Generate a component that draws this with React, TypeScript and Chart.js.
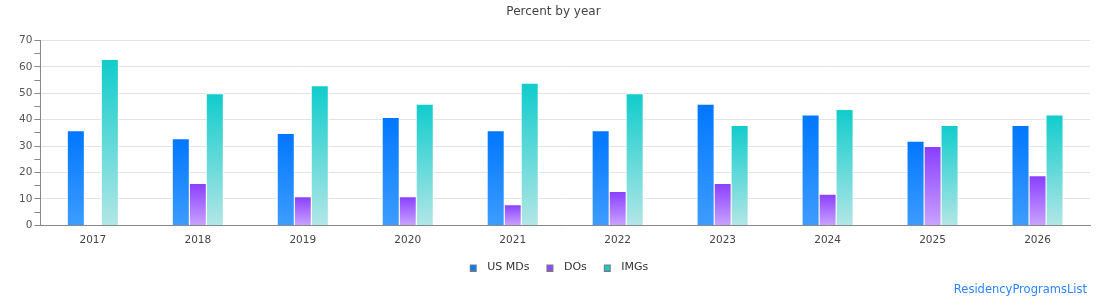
import React, { useEffect, useRef } from "react";
import { Chart, registerables } from "chart.js";

Chart.register(...registerables);

const years = ["2017", "2018", "2019", "2020", "2021", "2022", "2023", "2024", "2025", "2026"];
const usMDs = [36, 33, 35, 41, 36, 36, 46, 42, 32, 38];
const dOs = [0, 16, 11, 11, 8, 13, 16, 12, 30, 19];
const imgs = [63, 50, 53, 46, 54, 50, 38, 44, 38, 42];
const yTickValues = [0, 10, 20, 30, 40, 50, 60, 70];
const creditText = "ResidencyProgramsList";

const FONT = "'DejaVu Sans', Verdana, sans-serif";

// top colour, bottom colour, legend swatch colour
const palette = {
  us: ["#0077ff", "#3d9cff", "#0a7cff"],
  dos: ["#893dff", "#c9a2ff", "#8b4cff"],
  imgs: ["#10cccc", "#b2e6e6", "#19c9c9"],
};

// Each bar gets its own vertical gradient, from its top down to the baseline.
function barGradient(colors: string[]) {
  return (ctx: any) => {
    const chart = ctx.chart;
    const scale = chart.scales && chart.scales.y;
    if (ctx.type !== "data" || !scale || !chart.chartArea) return colors[2];
    const v = typeof ctx.raw === "number" ? ctx.raw : 0;
    const top = scale.getPixelForValue(v);
    const bottom = scale.getPixelForValue(0);
    if (!isFinite(top) || !isFinite(bottom) || bottom - top < 1) return colors[0];
    const g = chart.ctx.createLinearGradient(0, top, 0, bottom);
    g.addColorStop(0, colors[0]);
    g.addColorStop(1, colors[1]);
    return g;
  };
}

// Small square legend swatch with a grey outline; the transparent margins
// set the spacing before the swatch and between the swatch and its label.
const SW_LEFT = 11;
const SW_WIDTH = 23;
function makeSwatch(fill: string) {
  const c = document.createElement("canvas");
  c.width = SW_WIDTH;
  c.height = 8;
  const g = c.getContext("2d")!;
  g.fillStyle = fill;
  g.fillRect(SW_LEFT, 1, 7, 7);
  g.strokeStyle = "#7a7a7a";
  g.lineWidth = 1;
  g.strokeRect(SW_LEFT + 0.5, 1.5, 6, 6);
  return c;
}

const creditPlugin = {
  id: "credit",
  afterDraw(chart: any) {
    const { ctx, width, height } = chart;
    ctx.save();
    ctx.font = `11.5px ${FONT}`;
    ctx.fillStyle = "#2a84ff";
    ctx.textAlign = "right";
    ctx.textBaseline = "middle";
    ctx.fillText(creditText, width - 23, height - 10);
    ctx.restore();
  },
};

export default function App() {
  const ref = useRef<HTMLCanvasElement | null>(null);

  useEffect(() => {
    if (!ref.current) return;
    const makeSet = (label: string, data: number[], colors: string[]) => ({
      label,
      data,
      backgroundColor: barGradient(colors),
      borderColor: "#ffffff",
      borderWidth: 1,
      categoryPercentage: 0.486,
      barPercentage: 1.06,
      swatch: makeSwatch(colors[2]),
    });

    const chart = new Chart(ref.current, {
      type: "bar",
      data: {
        labels: years,
        datasets: [
          makeSet("US MDs", usMDs, palette.us),
          makeSet("DOs", dOs, palette.dos),
          makeSet("IMGs", imgs, palette.imgs),
        ] as any,
      },
      plugins: [creditPlugin],
      options: {
        animation: false,
        responsive: true,
        maintainAspectRatio: false,
        layout: { padding: { left: 17, right: 20, top: 0, bottom: 17 } },
        plugins: {
          title: {
            display: true,
            text: "Percent by year",
            color: "#444",
            font: { family: FONT, size: 12, weight: "normal" },
            padding: { top: 5, bottom: 21 },
          },
          legend: {
            position: "bottom",
            labels: {
              color: "#333",
              font: { family: FONT, size: 11 },
              usePointStyle: true,
              pointStyleWidth: SW_WIDTH,
              boxHeight: 8,
              padding: 6,
              generateLabels: (c: any) =>
                c.data.datasets.map((ds: any, i: number) => ({
                  text: ds.label,
                  pointStyle: ds.swatch,
                  fillStyle: ds.swatch,
                  lineWidth: 0,
                  fontColor: "#333",
                  hidden: !c.isDatasetVisible(i),
                  datasetIndex: i,
                })),
            },
          },
          tooltip: { enabled: false },
        },
        scales: {
          x: {
            grid: { display: false, drawTicks: false },
            border: { display: true, color: "#888", width: 1 },
            ticks: { color: "#444", font: { family: FONT, size: 10.5 }, padding: 9 },
          },
          y: {
            min: 0,
            max: 70,
            ticks: {
              stepSize: 5,
              autoSkip: false,
              color: "#555",
              font: { family: FONT, size: 10.5 },
              padding: 2,
              callback: (v: any) => (yTickValues.includes(Number(v)) ? String(v) : ""),
            },
            grid: {
              color: (ctx: any) =>
                ctx.tick && yTickValues.includes(ctx.tick.value) && ctx.tick.value !== 0 ? "#e3e3e3" : "rgba(0,0,0,0)",
              tickColor: "#888",
              tickLength: 6,
              drawTicks: true,
            },
            border: { display: true, color: "#888", width: 1 },
          },
        },
      } as any,
    });
    return () => chart.destroy();
  }, []);

  return (
    <div style={{ position: "absolute", left: 0, top: 0, width: 1110, height: 300, background: "#fff" }}>
      <canvas ref={ref} />
    </div>
  );
}
